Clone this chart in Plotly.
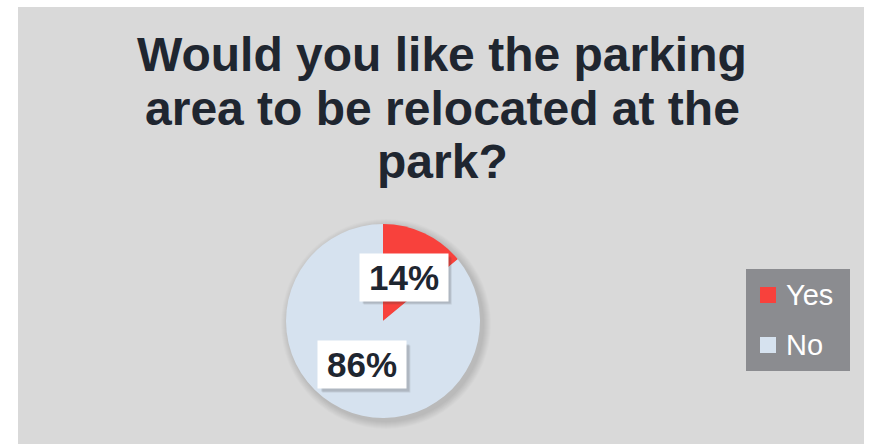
import math
import plotly.graph_objects as go

# ---- data ----
labels = ["Yes", "No"]
values = [14, 86]
colors = ["#f8413c", "#d6e2ef"]
title_lines = ["Would you like the parking", "area to be relocated at the", "park?"]

W, H = 872, 447
FONT = "Liberation Sans, Arial, sans-serif"
TXT = "#1f2630"

# pie geometry in pixels
cx, cy, r = 383, 321, 97

def px(x):
    return x / W

def py(y):
    return 1 - y / H

fig = go.Figure()
fig.add_trace(go.Pie(
    labels=labels, values=values, sort=False, direction="clockwise", rotation=0,
    marker=dict(colors=colors, line=dict(width=0)),
    textinfo="none", hoverinfo="label+percent", showlegend=False,
    domain=dict(x=[px(cx - r), px(cx + r)], y=[py(cy + r), py(cy - r)]),
))

# background panel
fig.add_shape(type="rect", xref="paper", yref="paper", layer="below",
              x0=px(18), x1=px(864), y0=py(444), y1=py(7),
              fillcolor="#d9d9d9", line=dict(width=0))

# soft shadow around the pie
for k in range(8, 0, -1):
    rr = r + k
    fig.add_shape(type="circle", xref="paper", yref="paper", layer="below",
                  x0=px(cx + 3 - rr), x1=px(cx + 3 + rr), y0=py(cy + 3 + rr), y1=py(cy + 3 - rr),
                  fillcolor="rgba(0,0,0,0.014)", line=dict(width=0))

# title lines
for i, line in enumerate(title_lines):
    fig.add_annotation(text=line, xref="paper", yref="paper", x=px(442), y=py(54 + 54 * i),
                       xanchor="center", yanchor="middle", showarrow=False,
                       font=dict(family=FONT, size=48, color=TXT, weight="bold"))

# data labels in white boxes with shadow
BW, BH = 88, 47
total = sum(values)
cum = 0
for v in values:
    mid = (cum + v / 2) / total * 2 * math.pi
    cum += v
    lx = cx + 0.5 * r * math.sin(mid)
    ly = cy - 0.5 * r * math.cos(mid)
    txt = f"{round(100 * v / total)}%"
    # shadow
    for k, a in ((4, 0.12), (3, 0.15)):
        fig.add_shape(type="rect", xref="paper", yref="paper", layer="above",
                      x0=px(lx - BW / 2 + k), x1=px(lx + BW / 2 + k),
                      y0=py(ly + BH / 2 + k), y1=py(ly - BH / 2 + k),
                      fillcolor=f"rgba(60,60,60,{a})", line=dict(width=0))
    fig.add_annotation(text=txt, xref="paper", yref="paper", x=px(lx), y=py(ly),
                       xanchor="center", yanchor="middle", showarrow=False,
                       width=BW, height=BH, borderpad=0, bgcolor="white",
                       font=dict(family=FONT, size=35, color=TXT, weight="bold"))

# legend box (drawn from labels/colors)
lg_x0, lg_y0, lg_x1, lg_y1 = 746, 269, 850, 371
fig.add_shape(type="rect", xref="paper", yref="paper", layer="above",
              x0=px(lg_x0), x1=px(lg_x1), y0=py(lg_y1), y1=py(lg_y0),
              fillcolor="#8b8c90", line=dict(width=0))
for i, (lab, col) in enumerate(zip(labels, colors)):
    yc = 295 + 50 * i
    fig.add_shape(type="rect", xref="paper", yref="paper", layer="above",
                  x0=px(760), x1=px(776), y0=py(yc + 8), y1=py(yc - 8),
                  fillcolor=col, line=dict(width=0))
    fig.add_annotation(text=lab, xref="paper", yref="paper", x=px(784), y=py(yc),
                       xanchor="left", yanchor="middle", showarrow=False,
                       font=dict(family=FONT, size=29, color="white"))

fig.update_layout(
    width=W, height=H, margin=dict(l=0, r=0, t=0, b=0),
    paper_bgcolor="white", plot_bgcolor="white",
    showlegend=False,
)

fig.write_html("out.html", config={"displayModeBar": False},
               post_script="document.body.style.margin='0';")
